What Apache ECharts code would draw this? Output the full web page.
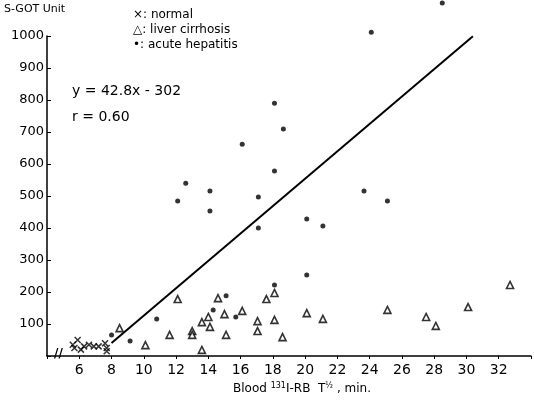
<!DOCTYPE html>
<html>
<head>
<meta charset="utf-8">
<script src="https://cdn.jsdelivr.net/npm/echarts@6/dist/echarts.min.js"></script>
<style>
  html, body { margin: 0; padding: 0; background: #fff; }
  #chart { width: 534px; height: 407px; }
</style>
</head>
<body>
<div id="chart"></div>
<script>
// normal subjects (x)
const normalX = [5.6, 5.7, 5.9, 6.1, 6.3, 6.6, 6.9, 7.2, 7.6, 7.7, 7.7]
const normalY = [35, 25, 50, 20, 30, 35, 30, 30, 40, 25, 15]

// liver cirrhosis (triangles)
const cirrX = [8.5, 10.1, 11.6, 12.1, 13.0, 13.0, 13.6, 13.6, 14.0, 14.1, 14.6, 15.0, 15.1, 16.1, 17.05, 17.05, 17.6, 18.1, 18.1, 18.6, 20.1, 21.1, 25.1, 27.5, 28.1, 30.1, 32.7]
const cirrY = [87, 34, 66, 178, 78, 66, 106, 19, 122, 91, 181, 131, 66, 141, 109, 78, 178, 197, 113, 59, 134, 116, 144, 122, 94, 153, 222]

// acute hepatitis (dots)
const hepX = [8.0, 9.15, 10.8, 12.1, 12.6, 14.1, 14.1, 14.3, 15.1, 15.7, 16.1, 17.1, 17.1, 18.1, 18.1, 18.1, 18.65, 20.1, 20.1, 21.1, 23.65, 24.1, 25.1, 28.5]
const hepY = [66, 47, 116, 484, 540, 516, 453, 144, 188, 122, 662, 497, 400, 222, 578, 790, 709, 428, 253, 406, 516, 1012, 484, 1103]

// regression y = 42.8x - 302, drawn from x = 8 to where it meets 1000
const slope = 42.8
const intercept = -302
const fitX = [8, 30.4]

const xTicksHidden = [4, 34]

const chart = echarts.init(document.getElementById('chart'))
const font = 'DejaVu Sans'
const pairs = (xs, ys) => xs.map((x, i) => [x, ys[i]])
const crossPath = 'path://M0,0L10,10M10,0L0,10'

chart.setOption({
  animation: false,
  textStyle: { fontFamily: font, color: '#000' },
  grid: { left: 47, right: 1, top: 36, bottom: 51 },
  xAxis: {
    type: 'value', min: 4, max: 34, interval: 2,
    splitLine: { show: false },
    axisLine: { lineStyle: { color: '#000', width: 1.5 } },
    axisTick: { length: 3, lineStyle: { color: '#000' } },
    axisLabel: {
      fontSize: 14, color: '#000', margin: 7,
      formatter: v => xTicksHidden.includes(v) ? '' : String(v)
    },
    name: 'Blood {sup|131}I-RB  T{sup|½} , min.',
    nameLocation: 'middle', nameGap: 26,
    nameTextStyle: {
      fontSize: 12, color: '#000', padding: [0, 0, 0, 26],
      rich: { sup: { fontSize: 8, verticalAlign: 'top', padding: [0, 0, 6, 0] } }
    }
  },
  yAxis: {
    type: 'value', min: 0, max: 1000, interval: 100,
    splitLine: { show: false },
    axisLine: { show: true, lineStyle: { color: '#000', width: 1.5 } },
    axisTick: { show: true, inside: true, length: 4, lineStyle: { color: '#000' } },
    axisLabel: {
      fontSize: 13, color: '#000', margin: 3,
      formatter: v => v === 0 ? '' : String(v)
    }
  },
  graphic: [
    { type: 'text', left: 4, top: 4, style: { text: 'S-GOT Unit', fontSize: 11, fontFamily: font, fill: '#000' } },
    { type: 'text', left: 133, top: 9, style: { text: '×: normal', fontSize: 12, fontFamily: font, fill: '#000' } },
    { type: 'text', left: 133, top: 24, style: { text: '△: liver cirrhosis', fontSize: 12, fontFamily: font, fill: '#000' } },
    { type: 'text', left: 133, top: 39, style: { text: '•: acute hepatitis', fontSize: 12, fontFamily: font, fill: '#000' } },
    { type: 'text', left: 72, top: 84, style: { text: 'y = 42.8x - 302', fontSize: 14, fontFamily: font, fill: '#000' } },
    { type: 'text', left: 72, top: 110, style: { text: 'r = 0.60', fontSize: 14, fontFamily: font, fill: '#000' } },
    { type: 'text', left: 54, top: 348, style: { text: '//', fontSize: 12, fontFamily: font, fill: '#000', fontWeight: 'bold' } }
  ],
  series: [
    {
      type: 'line',
      data: fitX.map(x => [x, slope * x + intercept]),
      symbol: 'none',
      lineStyle: { color: '#000', width: 2 }
    },
    {
      type: 'scatter',
      data: pairs(normalX, normalY),
      symbol: crossPath,
      symbolSize: 6,
      itemStyle: { color: 'none', borderColor: '#000', borderWidth: 1.5 }
    },
    {
      type: 'scatter',
      data: pairs(cirrX, cirrY),
      symbol: 'triangle',
      symbolSize: 7,
      itemStyle: { color: '#fff', borderColor: '#000', borderWidth: 1.6 }
    },
    {
      type: 'scatter',
      clip: false,
      data: pairs(hepX, hepY),
      symbol: 'circle',
      symbolSize: 5,
      itemStyle: { color: '#000' }
    }
  ]
})
</script>
</body>
</html>
